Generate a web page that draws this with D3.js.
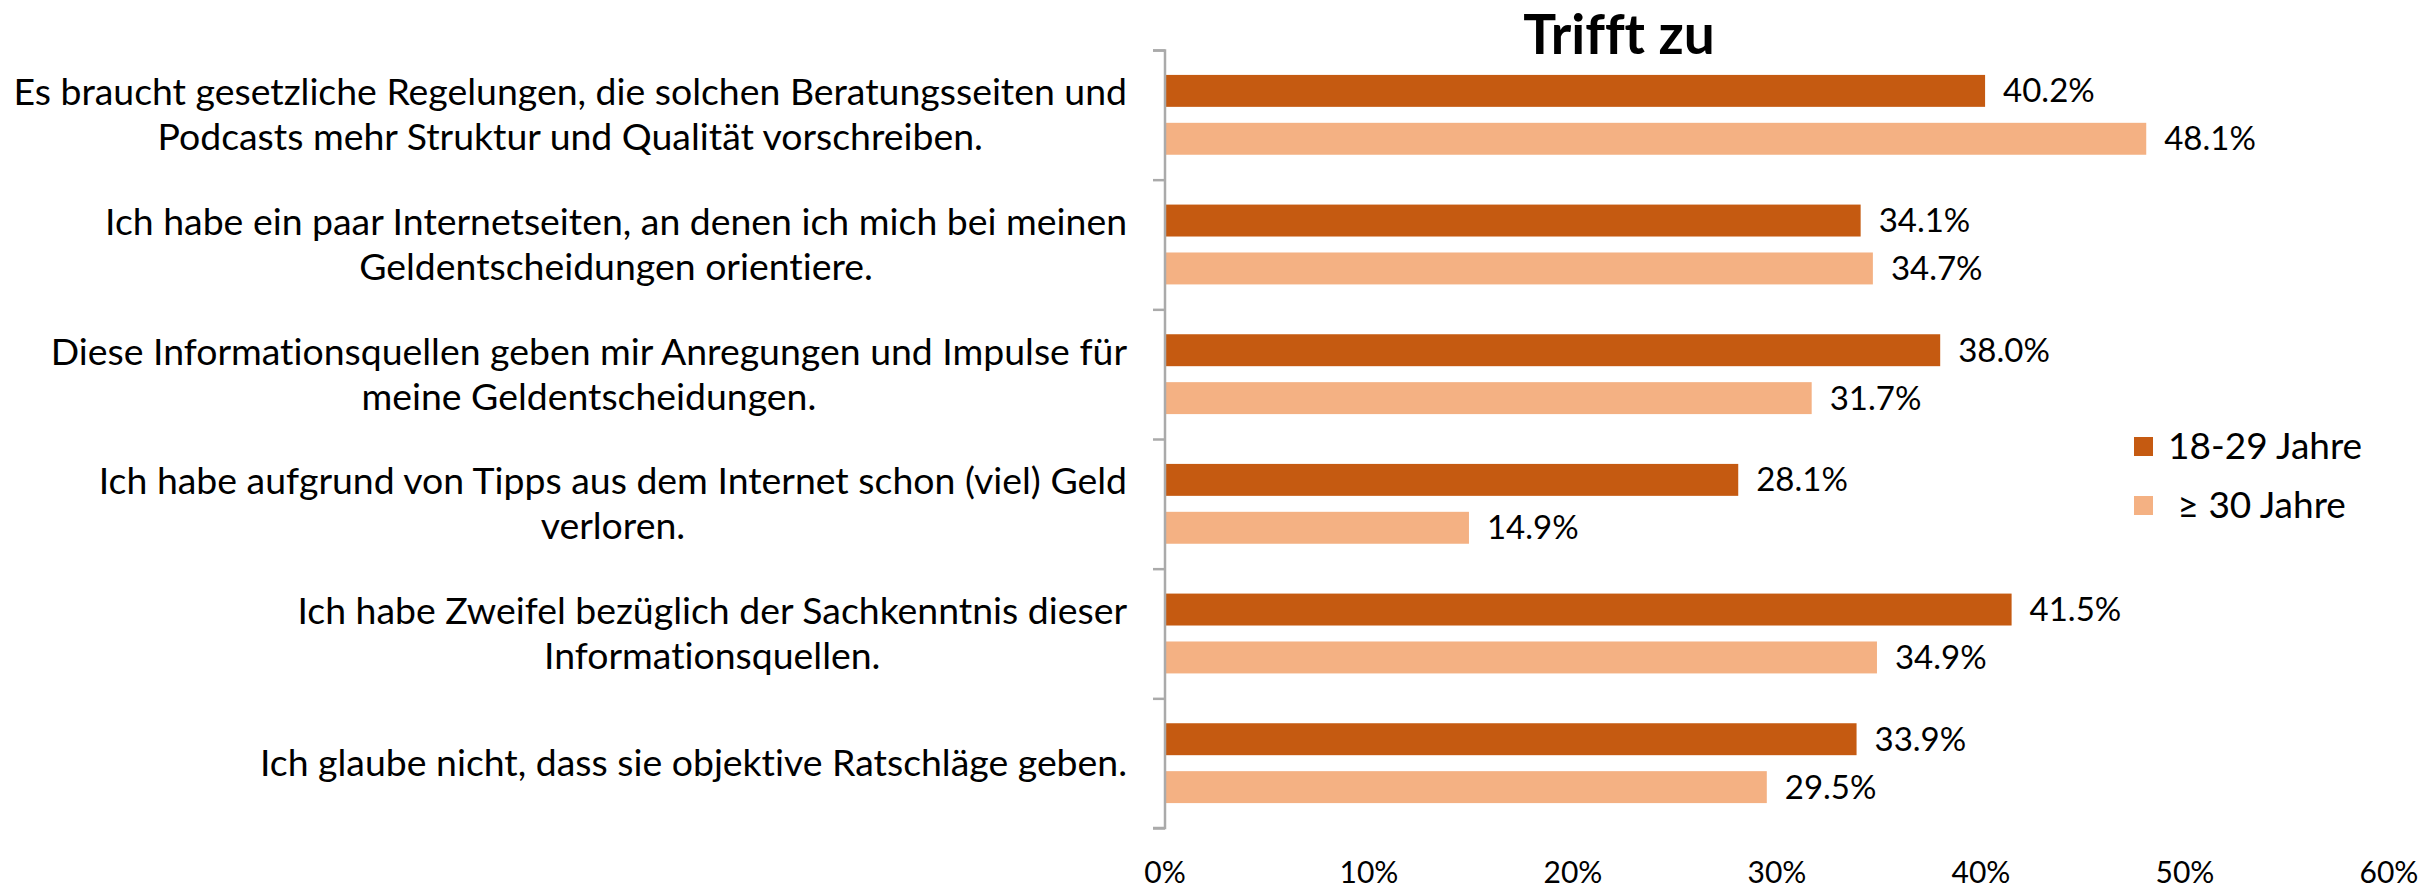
<!DOCTYPE html>
<html>
<head>
<meta charset="utf-8">
<script src="https://cdn.jsdelivr.net/npm/d3@7"></script>
<style>
  body { margin: 0; background: #fff; }
  text { font-family: Lato, "Open Sans", sans-serif; font-variant-ligatures: none; }
</style>
</head>
<body>
<svg id="chart"></svg>
<script>
var width = 2430, height = 887;

// data
var categories = [
  ["Es braucht gesetzliche Regelungen, die solchen Beratungsseiten und", "Podcasts mehr Struktur und Qualität vorschreiben."],
  ["Ich habe ein paar Internetseiten, an denen ich mich bei meinen", "Geldentscheidungen orientiere."],
  ["Diese Informationsquellen geben mir Anregungen und Impulse für", "meine Geldentscheidungen."],
  ["Ich habe aufgrund von Tipps aus dem Internet schon (viel) Geld", "verloren."],
  ["Ich habe Zweifel bezüglich der Sachkenntnis dieser", "Informationsquellen."],
  ["Ich glaube nicht, dass sie objektive Ratschläge geben."]
];
var seriesNames = ["18-29 Jahre", " \u2265 30 Jahre"];
var young = [40.2, 34.1, 38.0, 28.1, 41.5, 33.9];
var older = [48.1, 34.7, 31.7, 14.9, 34.9, 29.5];
var xTicks = [0, 10, 20, 30, 40, 50, 60];
var title = "Trifft zu";

var colors = ["#C55A11", "#F4B183"];
var values = [young, older];

var svg = d3.select("#chart").attr("width", width).attr("height", height);

var x = d3.scaleLinear().domain([0, 60]).range([1165, 2389]);
var catIdx = d3.range(categories.length);
var y0 = d3.scaleBand().domain(catIdx).range([50, 828]).padding(0);
var y1 = d3.scaleBand().domain([0, 1]).range([0, y0.bandwidth()])
    .paddingInner(1/3).paddingOuter(0.52);

// title
svg.append("text")
  .attr("x", 1619).attr("y", 54)
  .attr("text-anchor", "middle")
  .style("font-weight", "bold")
  .style("font-size", "55px")
  .text(title);

// bars
var groups = svg.selectAll("g.cat").data(catIdx).enter().append("g")
  .attr("class", "cat")
  .attr("transform", function(i){ return "translate(0," + y0(i) + ")"; });

groups.selectAll("rect").data(function(i){ return [0, 1].map(function(s){ return {s: s, v: values[s][i]}; }); })
  .enter().append("rect")
  .attr("x", x(0))
  .attr("y", function(d){ return y1(d.s); })
  .attr("width", function(d){ return x(d.v) - x(0); })
  .attr("height", y1.bandwidth())
  .attr("fill", function(d){ return colors[d.s]; });

groups.selectAll("text.val").data(function(i){ return [0, 1].map(function(s){ return {s: s, v: values[s][i]}; }); })
  .enter().append("text")
  .attr("class", "val")
  .attr("x", function(d){ return x(d.v) + 18; })
  .attr("y", function(d){ return y1(d.s) + y1.bandwidth()/2; })
  .attr("dy", "0.35em")
  .style("font-size", "33px")
  .text(function(d){ return d.v.toFixed(1) + "%"; });

// category axis
var yAxis = d3.axisLeft(d3.scaleLinear().domain([0, categories.length]).range([50, 828]))
  .ticks(categories.length).tickSize(12).tickFormat("");
var ya = svg.append("g").attr("transform", "translate(" + x(0) + ",0)").call(yAxis);
ya.select(".domain").attr("stroke", "#aaa").attr("stroke-width", 2.5).attr("d", "M-12,50.5H0V828H-12");
ya.selectAll(".tick line").attr("stroke", "#aaa").attr("stroke-width", 2.5);

// category labels
groups.each(function(i){
  var g = d3.select(this);
  var lines = categories[i];
  var t = g.append("text")
    .attr("text-anchor", "middle")
    .style("font-size", "37.4px");
  var lh = 45;
  lines.forEach(function(l, k){
    t.append("tspan")
      .attr("y", y0.bandwidth()/2 + (k - (lines.length - 1)/2) * lh)
      .attr("dy", "0.35em")
      .text(l);
  });
  var maxW = 0;
  t.selectAll("tspan").each(function(){ maxW = Math.max(maxW, this.getComputedTextLength()); });
  t.selectAll("tspan").attr("x", 1127 - maxW/2);
});

// x axis labels
var xa = svg.append("g").attr("transform", "translate(0,872)");
xa.selectAll("text").data(xTicks).enter().append("text")
  .attr("x", function(d){ return x(d); })
  .attr("dy", "0.35em")
  .attr("text-anchor", "middle")
  .style("font-size", "30px")
  .text(function(d){ return d + "%"; });

// legend
var lg = svg.append("g").attr("transform", "translate(2134,437)");
seriesNames.forEach(function(n, k){
  lg.append("rect").attr("x", 0).attr("y", k * 59).attr("width", 19).attr("height", 19).attr("fill", colors[k]);
  lg.append("text").attr("x", 34).attr("y", k * 59 + 9.5).attr("dy", "0.35em")
    .style("font-size", "37px").style("white-space", "pre").text(n);
});
</script>
</body>
</html>
